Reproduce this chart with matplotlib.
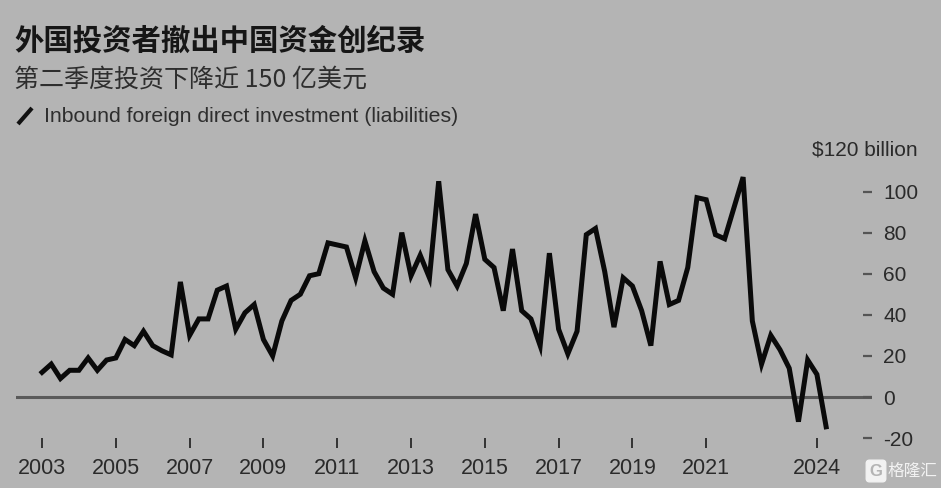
import matplotlib
matplotlib.use("Agg")
import matplotlib.pyplot as plt
from matplotlib.lines import Line2D
import matplotlib.transforms as mtransforms
import numpy as np

# ---- data (quarterly, 2003Q1 .. 2024Q2), $ billion ----
start_year = 2003
fdi_values = [
    12, 16, 9, 13, 13, 19, 13, 18, 19, 28, 25, 32,
    25, 22.5, 20.5, 56, 30, 38, 38, 52, 54, 33, 41, 45,
    28, 20, 37, 47, 50, 59, 60, 75, 74, 73, 58, 76,
    61, 53, 50, 80, 59, 69, 58, 105, 62, 54, 65, 89,
    67, 63, 42, 72, 42, 38, 25, 70, 33, 21, 32, 79,
    82, 61, 34, 58, 54, 42, 25, 66, 45, 47, 63, 97,
    96, 79, 77, 92, 107, 37, 16, 30, 23, 14, -12, 18,
    11, -14.5,
]
x_tick_years = [2003, 2005, 2007, 2009, 2011, 2013, 2015, 2017, 2019, 2021, 2024]
y_ticks = [-20, 0, 20, 40, 60, 80, 100]
y_top_label = "$120 billion"

title = "外国投资者撤出中国资金创纪录"
subtitle = "第二季度投资下降近 150 亿美元"
legend_label = "Inbound foreign direct investment (liabilities)"
watermark = "格隆汇"

# ---- figure ----
BG = "#b4b4b4"
W, H = 941, 488
fig = plt.figure(figsize=(W / 100, H / 100), dpi=100, facecolor=BG)

cjk = ["Noto Sans CJK SC", "DejaVu Sans"]
lat = ["Liberation Sans", "DejaVu Sans"]

# axes placement in pixels
ax_left, ax_right = 16, 872
ax_top, ax_bottom = 146.3, 438.1
ax = fig.add_axes([ax_left / W, 1 - ax_bottom / H, (ax_right - ax_left) / W, (ax_bottom - ax_top) / H])
ax.set_facecolor(BG)

x = start_year + np.arange(len(fdi_values)) / 4.0
ax.axhline(0, color="#5a5a5a", lw=2.2, zorder=1)
ax.plot(x, fdi_values, color="#0a0a0a", lw=3.6, solid_joinstyle="miter", zorder=3)

ax.set_xlim(2002.295, 2025.493)
ax.set_ylim(-20, 122)

for s in ax.spines.values():
    s.set_visible(False)

ax.yaxis.tick_right()
ax.set_yticks(y_ticks)
ax.set_yticklabels([str(v) for v in y_ticks])
ax.tick_params(axis="y", direction="in", length=6.5, width=1.6, color="#555555",
               pad=8, labelsize=15, labelcolor="#2a2a2a")
for lab in ax.get_yticklabels():
    lab.set_family(lat)

ax.set_xticks(x_tick_years)
ax.set_xticklabels([str(v) for v in x_tick_years])
ax.tick_params(axis="x", direction="out", length=7, width=1.4, color="#333333",
               pad=7, labelsize=15.5, labelcolor="#2a2a2a")
for lab in ax.get_xticklabels():
    lab.set_family(lat)

ax.text(918 / W, 120, y_top_label,
        transform=mtransforms.blended_transform_factory(fig.transFigure, ax.transData),
        ha="right", va="center", fontsize=15, color="#2a2a2a", family=lat)

# ---- header texts ----
fig.text(14 / W, 1 - 41 / H, title, fontsize=21.2, fontweight="bold", color="#161616",
         family=cjk, ha="left", va="center")
fig.text(14 / W, 1 - 79.5 / H, subtitle, fontsize=18, color="#2e2e2e",
         family=cjk, ha="left", va="center")
fig.add_artist(Line2D([18 / W, 32 / W], [1 - 124 / H, 1 - 108 / H], color="#111111",
                      lw=3, solid_capstyle="butt"))
fig.text(44 / W, 1 - 116.5 / H, legend_label, fontsize=15.3, color="#2e2e2e",
         family=lat, ha="left", va="center")

# ---- watermark ----
fig.text(876 / W, 1 - 471 / H, "G", fontsize=12, fontweight="bold", color=BG,
         family=lat, ha="center", va="center",
         bbox=dict(boxstyle="round,pad=0.2", fc="#f2f2f2", ec="#f2f2f2"))
fig.text(888 / W, 1 - 471 / H, watermark, fontsize=12, color="#f2f2f2",
         family=cjk, ha="left", va="center")

fig.savefig("out.png", dpi=100, facecolor=BG)
